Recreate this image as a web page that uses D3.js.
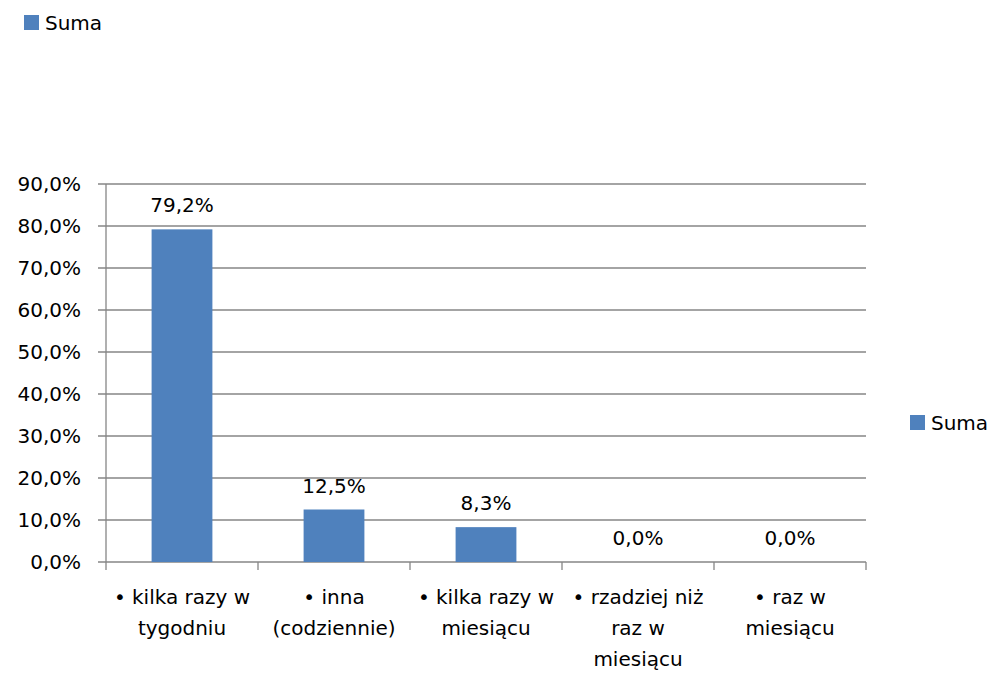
<!DOCTYPE html>
<html>
<head>
<meta charset="utf-8">
<script src="https://cdn.jsdelivr.net/npm/d3@7"></script>
<style>
  body { margin: 0; background: #fff; }
  text { font-family: "DejaVu Sans", sans-serif; fill: #000; }
</style>
</head>
<body>
<svg width="993" height="673"></svg>
<script>
// data
var categories = [
  ["• kilka razy w", "tygodniu"],
  ["• inna", "(codziennie)"],
  ["• kilka razy w", "miesiącu"],
  ["• rzadziej niż", "raz w", "miesiącu"],
  ["• raz w", "miesiącu"]
];
var values = [79.2, 12.5, 8.3, 0.0, 0.0];
var yTicks = [0, 10, 20, 30, 40, 50, 60, 70, 80, 90];
var seriesName = "Suma";

var svg = d3.select("svg");
var fmt = function(v) { return v.toFixed(1).replace(".", ",") + "%"; };
var barColor = "#4F81BD", gridColor = "#868686";
var fs = "20px";

var x = d3.scaleBand().domain(d3.range(categories.length)).range([106, 866]).paddingInner(0.6).paddingOuter(0.3);
var xEdge = d3.scaleLinear().domain([0, categories.length]).range([106, 866]);
var y = d3.scaleLinear().domain([0, 90]).range([562, 184]);

// gridlines + y labels
var grid = svg.append("g");
grid.selectAll("line").data(yTicks).enter().append("line")
  .attr("x1", 98).attr("x2", 866)
  .attr("y1", function(d) { return y(d); }).attr("y2", function(d) { return y(d); })
  .attr("stroke", gridColor).attr("stroke-width", 1.3);
grid.selectAll("text").data(yTicks).enter().append("text")
  .attr("x", 81).attr("y", function(d) { return y(d); })
  .attr("dy", "0.35em").attr("text-anchor", "end")
  .style("font-size", fs)
  .text(function(d) { return fmt(d); });

// y axis line
svg.append("line").attr("x1", 106).attr("x2", 106).attr("y1", 184).attr("y2", 562)
  .attr("stroke", gridColor).attr("stroke-width", 1.3);

// x ticks
svg.append("g").selectAll("line").data(d3.range(categories.length + 1)).enter().append("line")
  .attr("x1", function(d) { return xEdge(d); }).attr("x2", function(d) { return xEdge(d); })
  .attr("y1", 562).attr("y2", 570)
  .attr("stroke", gridColor).attr("stroke-width", 1.3);

// bars
svg.append("g").selectAll("rect").data(values).enter().append("rect")
  .attr("x", function(d, i) { return x(i); })
  .attr("width", x.bandwidth())
  .attr("y", function(d) { return y(d); })
  .attr("height", function(d) { return y(0) - y(d); })
  .attr("fill", barColor);

// value labels
svg.append("g").selectAll("text").data(values).enter().append("text")
  .attr("x", function(d, i) { return x(i) + x.bandwidth() / 2; })
  .attr("y", function(d) { return y(d) - 17; })
  .attr("text-anchor", "middle")
  .style("font-size", fs)
  .text(function(d) { return fmt(d); });

// category labels
var cat = svg.append("g").selectAll("text").data(categories).enter().append("text")
  .attr("text-anchor", "middle")
  .style("font-size", fs);
cat.selectAll("tspan").data(function(d, i) { return d.map(function(t) { return [t, i]; }); })
  .enter().append("tspan")
  .attr("x", function(d) { return x(d[1]) + x.bandwidth() / 2; })
  .attr("y", function(d, j) { return 604 + j * 31; })
  .text(function(d) { return d[0]; });

// legends
function legend(lx, ly) {
  var g = svg.append("g");
  g.append("rect").attr("x", lx).attr("y", ly).attr("width", 15).attr("height", 15).attr("fill", barColor);
  g.append("text").attr("x", lx + 21).attr("y", ly + 7.5).attr("dy", "0.35em")
    .style("font-size", fs).text(seriesName);
}
legend(24, 15);
legend(910, 415);
</script>
</body>
</html>
